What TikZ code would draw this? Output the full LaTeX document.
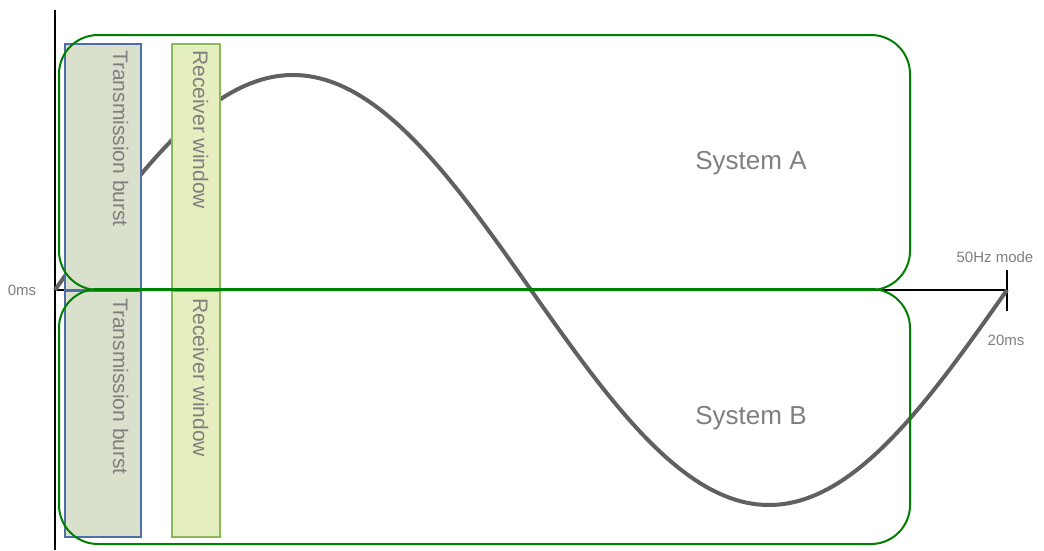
\documentclass[tikz,border=0pt]{standalone}
\usepackage{fontspec}
\setmainfont{Liberation Sans}
\definecolor{sysgreen}{HTML}{008000}
\definecolor{txblue}{HTML}{4F6FA8}
\definecolor{txfill}{HTML}{D9E1CC}
\definecolor{rxfill}{HTML}{E5EEBE}
\definecolor{rxline}{HTML}{8CB85C}
\definecolor{labgray}{HTML}{7F7F7F}
\definecolor{curvegray}{HTML}{606060}
\tikzset{
  sysbox/.style={draw=sysgreen, line width=2pt, rounded corners=39pt, inner sep=0pt, minimum width=851pt, minimum height=255pt},
  txbox/.style={draw=txblue, fill=txfill, line width=1.6pt, inner sep=0pt, minimum width=76pt, minimum height=246pt},
  rxbox/.style={draw=rxline, fill=rxfill, line width=1.6pt, inner sep=0pt, minimum width=48pt, minimum height=246pt},
  vlabel/.style={rotate=-90, anchor=base west, inner sep=0pt, text=labgray, font=\fontsize{21}{24}\selectfont},
  syslabel/.style={inner sep=0pt, text=labgray, font=\fontsize{26}{30}\selectfont},
  axlabel/.style={inner sep=0pt, text=labgray, font=\fontsize{15}{18}\selectfont},
  axisline/.style={draw=black, line width=1.8pt},
  wave/.style={draw=curvegray, line width=4pt}
}
\begin{document}
\begin{tikzpicture}[x=1pt,y=-1pt]
\useasboundingbox (0,0) rectangle (1044,550);
% axes
\coordinate (axtop) at (55,10);
\coordinate (axbot) at (55,550);
\coordinate (orig) at (55,290);
\coordinate (axend) at (1007,290);
\coordinate (tickup) at (1007,270);
\coordinate (tickdn) at (1007,311);
\draw[axisline] (axtop) -- (axbot);
\draw[axisline] (orig) -- (axend);
\draw[axisline] (tickup) -- (tickdn);
% wave
\draw[wave] plot[domain=0:360, samples=240, smooth] ({55+\x*2.64444}, {290-215*sin(\x)});
% boxes
\node[txbox] (txa) at (103,167) {};
\node[txbox] (txb) at (103,414) {};
\node[rxbox] (rxa) at (196,167) {};
\node[rxbox] (rxb) at (196,414) {};
\node[vlabel] (txalab) at (113,50) {Transmission burst};
\node[vlabel] (txblab) at (113,298) {Transmission burst};
\node[vlabel] (rxalab) at (193,50) {Receiver window};
\node[vlabel] (rxblab) at (193,298) {Receiver window};
% systems
\node[sysbox] (sysa) at (484.5,162.5) {};
\node[sysbox] (sysb) at (484.5,416.5) {};
\node[syslabel] (sysalab) at (751,163) {System A};
\node[syslabel] (sysblab) at (751,418) {System B};
% axis labels
\node[axlabel] (zero) at (22,290) {0ms};
\node[axlabel] (mode) at (995,257) {50Hz mode};
\node[axlabel] (twenty) at (1006,340) {20ms};
\end{tikzpicture}
\end{document}
